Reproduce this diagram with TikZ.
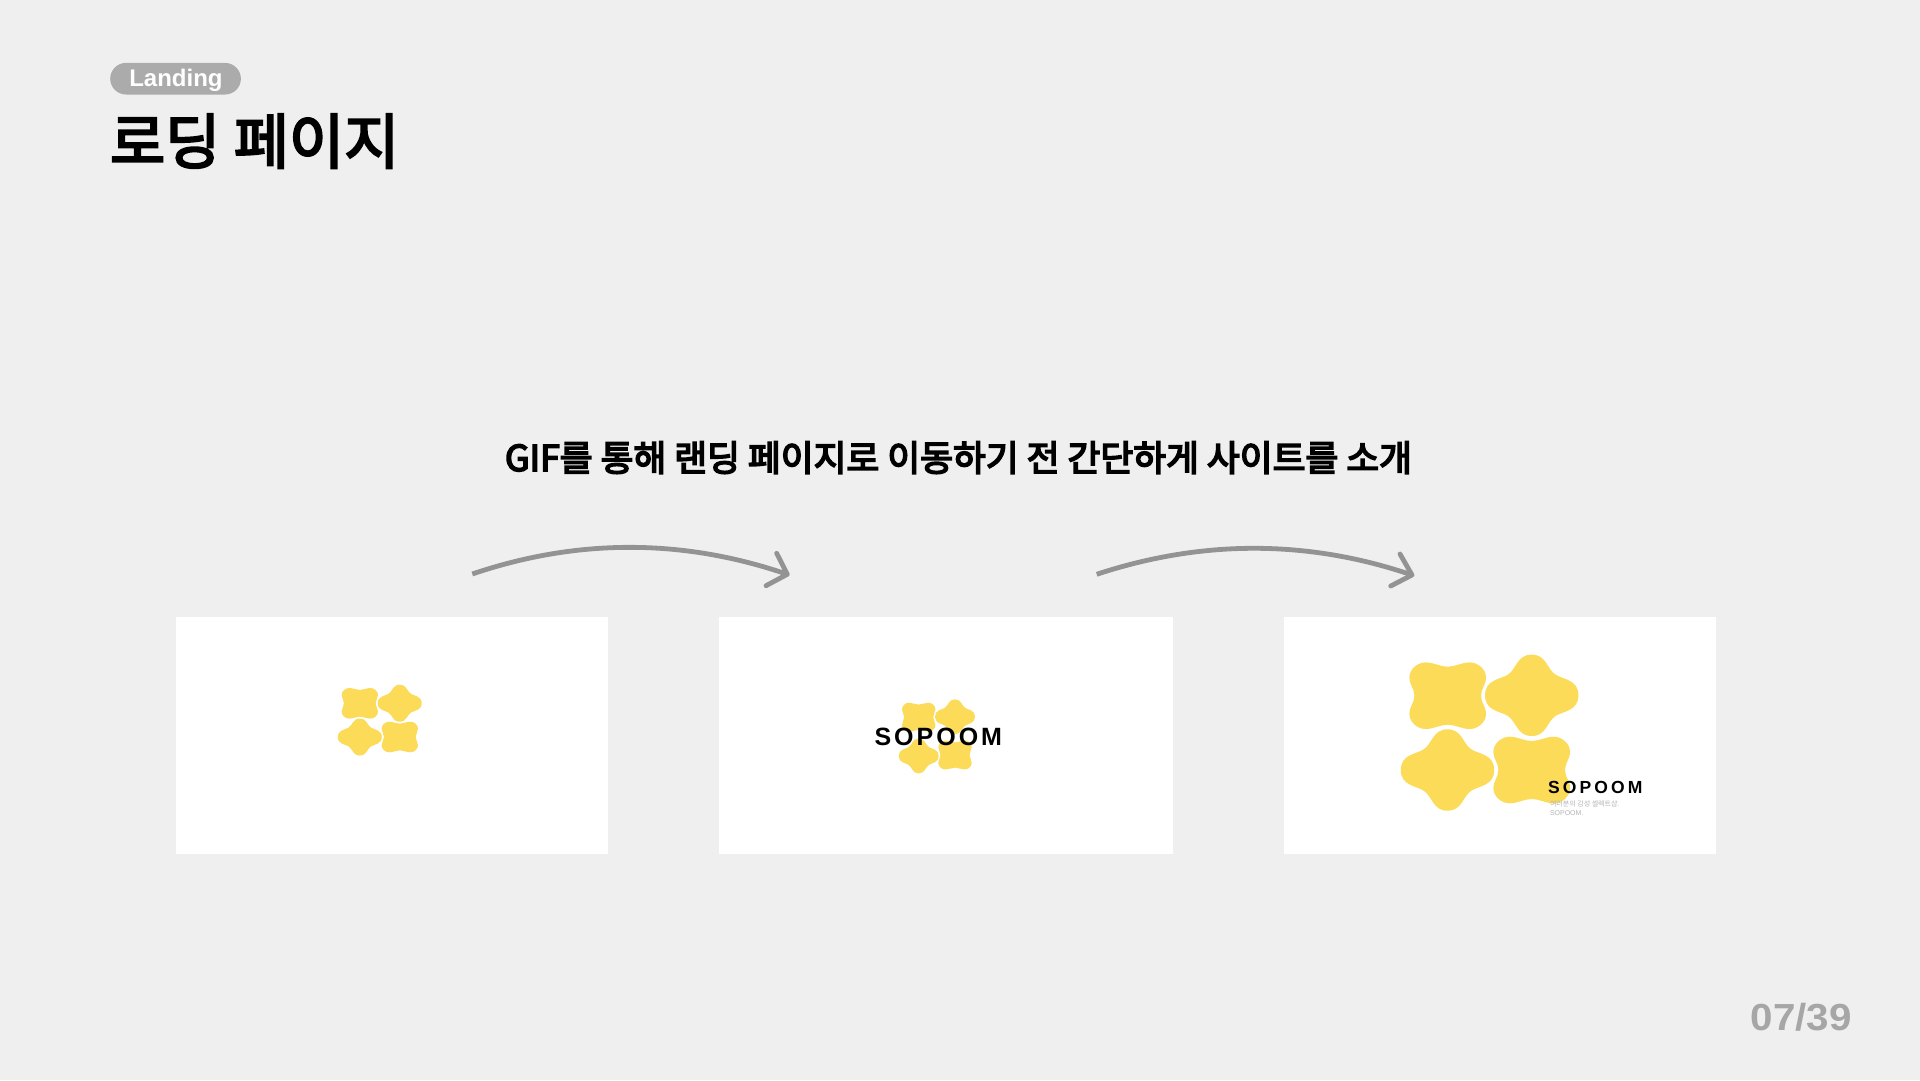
\documentclass[tikz,border=0pt]{standalone}
\usepackage{fontspec}
\setmainfont{Liberation Sans}
\newfontfamily\krfont{Noto Sans CJK KR}
\newfontfamily\krmed[FakeBold=3.6]{Noto Sans CJK KR}
\newfontfamily\krsemi[FakeBold=4.6]{Noto Sans CJK KR}
\newfontfamily\latbold{Liberation Sans Bold}
\newfontfamily\logoA[LetterSpace=12]{Liberation Sans Bold}
\newfontfamily\logoB[LetterSpace=18]{Liberation Sans Bold}
\definecolor{bgc}{HTML}{EFEFEF}
\definecolor{pillc}{HTML}{ABABAB}
\definecolor{arrowc}{HTML}{939393}
\definecolor{blobc}{HTML}{FCDB58}
\definecolor{pagec}{HTML}{A6A6A6}
\definecolor{subc}{HTML}{B4B4B4}
\tikzset{
  cardbox/.style={fill=white,draw=none,inner sep=0pt,anchor=north west},
  txt/.style={inner sep=0pt,outer sep=0pt,anchor=base west},
  flow/.style={draw=arrowc,line width=4.8pt},
  flowhead/.style={draw=arrowc,line width=4.8pt,line cap=round,line join=round},
  blob/.style={fill=blobc,draw=none}
}
% cx cy hx hy
\newcommand\blobStar[4]{%
  \fill[blob,shift={(#1,#2)},x=#3pt,y=#4pt]
    (0,-1) .. controls (.32,-1) and (.32,-.64) .. (.52,-.50)
    .. controls (.68,-.39) and (1,-.38) .. (1,0)
    .. controls (1,.38) and (.68,.39) .. (.52,.50)
    .. controls (.32,.64) and (.32,1) .. (0,1)
    .. controls (-.32,1) and (-.32,.64) .. (-.52,.50)
    .. controls (-.68,.39) and (-1,.38) .. (-1,0)
    .. controls (-1,-.38) and (-.68,-.39) .. (-.52,-.50)
    .. controls (-.32,-.64) and (-.32,-1) .. (0,-1) -- cycle;}
\newcommand\blobSquare[4]{%
  \fill[blob,shift={(#1,#2)},x=#3pt,y=#4pt]
    (0,-.87) .. controls (.20,-.87) and (.36,-1) .. (.58,-1)
    .. controls (.78,-1) and (1,-.80) .. (1,-.55)
    .. controls (1,-.32) and (.87,-.22) .. (.87,0)
    .. controls (.87,.22) and (1,.32) .. (1,.55)
    .. controls (1,.80) and (.78,1) .. (.58,1)
    .. controls (.36,1) and (.20,.87) .. (0,.87)
    .. controls (-.20,.87) and (-.36,1) .. (-.58,1)
    .. controls (-.78,1) and (-1,.80) .. (-1,.55)
    .. controls (-1,.32) and (-.87,.22) .. (-.87,0)
    .. controls (-.87,-.22) and (-1,-.32) .. (-1,-.55)
    .. controls (-1,-.80) and (-.78,-1) .. (-.58,-1)
    .. controls (-.36,-1) and (-.20,-.87) .. (0,-.87) -- cycle;}
\begin{document}
\begin{tikzpicture}[x=1pt,y=-1pt]
\useasboundingbox (0,0) rectangle (1920,1080);
\fill[bgc] (0,0) rectangle (1920,1080);

% tag + title
\node[fill=pillc,rounded corners=15.8pt,minimum width=130.7pt,minimum height=31.6pt,inner sep=0pt,anchor=north west] (pill) at (110,62.7) {};
\node[txt,text=white] (tag) at (129.3,86.5) {\fontsize{24}{24}\selectfont\latbold Landing};
\node[txt,text=black] (title) at (110,163.5) {\fontsize{60}{60}\selectfont\krmed 로딩 페이지};

% heading
\node[txt,text=black] (head) at (505,471) {\fontsize{35.7}{35.7}\selectfont\krsemi GIF를 통해 랜딩 페이지로 이동하기 전 간단하게 사이트를 소개};

% cards
\node[cardbox,minimum width=432pt,minimum height=237pt] (card1) at (176,617) {};
\node[cardbox,minimum width=454pt,minimum height=237pt] (card2) at (719,617) {};
\node[cardbox,minimum width=432pt,minimum height=237pt] (card3) at (1284,617) {};

% card 1
\blobSquare{359.8}{703.3}{18.2}{15.3}
\blobStar{399.7}{703.2}{22}{18.5}
\blobStar{359.8}{737}{22}{18.5}
\blobSquare{399.8}{737}{18.2}{15.3}

% card 2
\blobSquare{918.7}{717.2}{16.7}{14.5}
\blobStar{955}{716.7}{20}{17.4}
\blobStar{918.7}{756}{20}{17.4}
\blobSquare{955}{755}{16.7}{14.5}
\node[txt,text=black] (logo2) at (874.5,745) {\fontsize{25}{25}\selectfont\logoA SOPOOM};

% card 3
\blobSquare{1447.7}{695.7}{38.3}{33.3}
\blobStar{1531.7}{695.3}{46.7}{40.7}
\blobStar{1447.5}{770}{46.7}{40.7}
\blobSquare{1531.7}{770}{38.3}{33.3}
\node[txt,text=black] (logo3) at (1548,793.3) {\fontsize{17.5}{17.5}\selectfont\logoB SOPOOM};
\node[txt,text=subc] (sub1) at (1550,806.5) {\fontsize{7}{7}\selectfont\krfont 여러분의 감성 셀렉트샵.};
\node[txt,text=subc] (sub2) at (1550,815) {\fontsize{7}{7}\selectfont SOPOOM.};

% arrows
\coordinate (a1s) at (472.3,574);
\coordinate (a1e) at (787.3,574.3);
\coordinate (a1u) at (776.7,553.3);
\coordinate (a1d) at (766,585.7);
\draw[flow] (a1s) .. controls (577,538.4) and (683,538.4) .. (a1e);
\draw[flowhead] (a1u) -- (a1e) -- (a1d);
\coordinate (a2s) at (1096.7,574.3);
\coordinate (a2e) at (1412,575);
\coordinate (a2u) at (1400,554);
\coordinate (a2d) at (1390.7,586);
\draw[flow] (a2s) .. controls (1202,539.5) and (1308,539.5) .. (a2e);
\draw[flowhead] (a2u) -- (a2e) -- (a2d);

% page number
\node[inner sep=0pt,anchor=base east,text=pagec] (page) at (1852,1030) {\scalebox{1.07}[1]{\fontsize{37.7}{37.7}\selectfont\latbold 07/39}};
\end{tikzpicture}
\end{document}
